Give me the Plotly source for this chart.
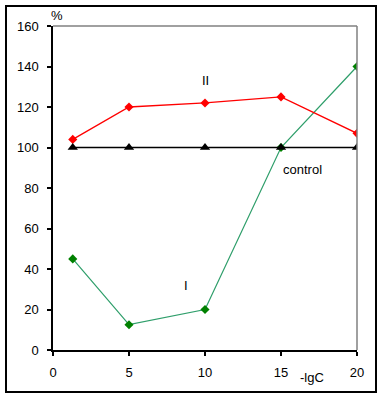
import plotly.graph_objects as go

x_vals = [1.3, 5, 10, 15, 20]
series_II = [104, 120, 122, 125, 107]
series_I = [45, 12.5, 20, 100, 140]
control = [100, 100, 100, 100, 100]
x_ticks = [0, 5, 10, 15, 20]
y_ticks = [0, 20, 40, 60, 80, 100, 120, 140, 160]

FONT = "Liberation Sans, Arial, sans-serif"

fig = go.Figure()
fig.add_trace(go.Scatter(x=x_vals, y=series_I, mode="lines+markers",
                         line=dict(color="#2e9e6a", width=1.2),
                         marker=dict(symbol="diamond", size=7, color="#008000"),
                         name="I"))
fig.add_trace(go.Scatter(x=x_vals, y=series_II, mode="lines+markers",
                         line=dict(color="#ff0000", width=1.3),
                         marker=dict(symbol="diamond", size=7, color="#ff0000"),
                         name="II"))
fig.add_trace(go.Scatter(x=x_vals, y=control, mode="lines+markers",
                         line=dict(color="black", width=1.5),
                         marker=dict(symbol="triangle-up", size=9, color="black"),
                         name="control"))

fig.update_layout(
    width=383, height=400,
    margin=dict(l=53, r=26, t=26, b=50),
    paper_bgcolor="white", plot_bgcolor="white",
    showlegend=False,
    font=dict(family=FONT, size=12, color="black"),
    xaxis=dict(range=[0, 20], tickvals=x_ticks, showgrid=False, zeroline=False,
               showline=True, linecolor="black", linewidth=1.5,
               ticks="outside", ticklen=4, tickcolor="black", tickwidth=1.5,
               ticklabelstandoff=6, tickfont=dict(size=13)),
    yaxis=dict(range=[0, 160], tickvals=y_ticks, showgrid=False, zeroline=False,
               showline=True, linecolor="black", linewidth=1.5,
               ticks="outside", ticklen=4, tickcolor="black", tickwidth=1.5,
               ticklabelstandoff=6, tickfont=dict(size=13)),
    shapes=[
        dict(type="line", xref="paper", yref="paper", x0=0, x1=1, y0=1, y1=1,
             line=dict(color="#808080", width=1.5)),
        dict(type="line", xref="paper", yref="paper", x0=1, x1=1, y0=0, y1=1,
             line=dict(color="#808080", width=1.5)),
        dict(type="rect", xref="paper", yref="paper",
             x0=-0.1546, x1=1.0625, y0=-0.1296, y1=1.0617,
             line=dict(color="black", width=2)),
    ],
    annotations=[
        dict(text="%", xref="paper", yref="paper", x=0.013, y=1.031,
             xanchor="center", yanchor="middle",
             showarrow=False, font=dict(size=13)),
        dict(text="-lgC", xref="paper", yref="paper", x=0.852, y=-0.086,
             xanchor="center", yanchor="middle",
             showarrow=False, font=dict(size=13)),
        dict(text="II", x=10, y=133, showarrow=False, font=dict(size=13)),
        dict(text="I", x=8.75, y=32, showarrow=False, font=dict(size=13)),
        dict(text="control", x=16.4, y=89, showarrow=False, font=dict(size=13)),
    ],
)

fig.write_html("out.html", config={"displayModeBar": False},
               post_script="document.body.style.margin='0';document.body.style.overflow='hidden';")
